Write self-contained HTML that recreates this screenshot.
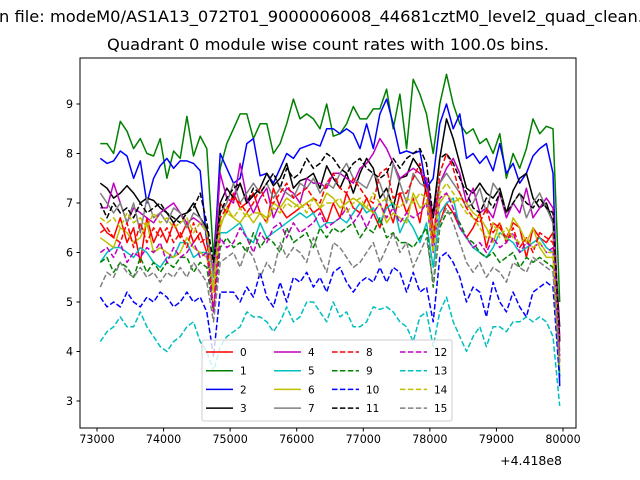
<!DOCTYPE html>
<html><head><meta charset="utf-8"><style>
body{margin:0;background:#fff;}
svg{display:block;font-family:"DejaVu Sans","Liberation Sans",sans-serif;}
</style></head><body>
<svg id="chart" width="640" height="480">
<text x="-1" y="22" font-size="16.3">n file: modeM0/AS1A13_072T01_9000006008_44681cztM0_level2_quad_clean.evt</text>
<text x="328" y="50" font-size="16.3" text-anchor="middle">Quadrant 0 module wise count rates with 100.0s bins.</text>
<g id="plot"></g>
<rect x="80" y="58" width="496" height="370" fill="none" stroke="#000" stroke-width="1"/>
<g id="axes"></g>
<text x="562" y="465" font-size="12.5" text-anchor="end">+4.418e8</text>
<g id="legend"></g>
</svg>
<script>
const t0 = 73050, dt = 100;
const xTicks = [73000,74000,75000,76000,77000,78000,79000,80000];
const yTicks = [3,4,5,6,7,8,9];
const seriesNames = ["0","1","2","3","4","5","6","7","8","9","10","11","12","13","14","15"];
const colors = ["#ff0000","#008000","#0000ff","#000000","#bf00bf","#00bfbf","#bfbf00","#808080"];
const s0=[6.6,6.4,6.3,6.7,6.2,6.5,5.8,6.7,6.2,6.5,6.2,6.6,6.3,6.6,6.2,6.4,6.0,5.2,7.0,6.8,7.2,6.9,7.0,7.2,6.8,6.6,7.3,6.9,6.7,6.8,6.9,7.0,6.8,6.9,6.6,7.0,6.7,7.2,6.9,6.8,7.1,6.8,6.5,7.0,6.6,7.2,6.8,7.1,6.6,7.4,6.5,6.6,7.0,6.8,6.5,6.3,6.5,6.8,6.1,6.6,6.5,6.3,6.6,6.5,5.9,6.5,6.3,6.2,6.4,4.2];
const s1=[8.2,8.2,8.0,8.65,8.45,8.1,8.3,8.0,7.95,8.3,7.5,8.05,7.9,8.75,7.95,8.35,8.1,5.9,7.7,8.2,8.5,8.8,8.8,8.3,8.6,8.6,8.0,8.2,8.6,9.1,8.7,8.8,8.7,8.5,9.0,8.35,8.4,8.6,8.95,8.7,8.7,8.9,8.9,9.3,8.5,9.2,8.1,9.5,9.2,8.8,8.0,9.0,9.6,9.0,8.6,8.4,8.5,8.2,8.3,8.0,8.4,7.5,8.0,7.7,8.1,8.7,8.4,8.55,8.5,5.0];
const s2=[7.9,7.8,7.85,8.05,7.95,7.5,7.85,7.0,7.5,7.75,7.9,7.7,7.85,7.85,7.8,7.65,6.2,5.6,8.0,7.7,7.4,7.5,8.2,8.3,7.55,7.6,7.4,7.7,8.0,7.9,8.1,8.15,8.2,8.15,8.5,8.5,8.4,8.5,8.4,8.1,8.6,8.1,8.8,9.1,8.6,8.0,8.05,8.0,8.05,7.3,7.5,8.6,9.0,8.5,8.8,7.9,8.0,7.8,7.95,7.65,8.2,7.6,7.8,7.4,7.6,7.95,8.1,8.2,7.6,3.3];
const s3=[7.4,7.3,7.1,7.2,7.35,7.2,7.0,7.1,7.05,6.9,6.8,6.6,6.75,6.8,7.0,6.7,6.5,5.5,7.0,7.3,7.1,7.4,7.0,7.15,7.3,7.6,7.35,7.5,7.8,7.3,7.45,7.5,7.6,7.3,7.75,7.5,7.3,7.6,7.2,7.6,7.9,7.7,7.1,7.3,6.9,7.5,7.55,7.9,7.7,7.2,6.8,7.9,8.7,8.3,7.8,7.3,7.2,7.4,7.2,7.1,7.3,6.8,7.25,7.5,7.6,7.1,6.9,7.0,6.6,4.5];
const s4=[6.9,6.9,7.4,7.0,6.6,6.9,6.8,6.7,6.6,6.8,6.9,7.0,6.8,6.6,6.7,6.6,6.4,5.6,7.6,7.1,7.0,7.8,7.1,6.8,7.1,7.3,6.7,7.0,7.3,7.2,7.0,7.5,7.4,7.4,7.3,7.6,7.6,7.5,7.4,7.7,7.8,8.0,8.3,8.1,7.8,7.5,7.6,7.7,7.6,7.5,6.7,7.4,7.7,7.9,7.6,7.0,7.3,6.8,6.9,6.7,7.2,6.7,7.0,6.8,7.3,6.7,6.9,7.1,6.9,4.3];
const s5=[5.8,6.0,6.1,6.1,6.0,5.9,6.1,6.0,5.8,5.7,5.9,5.9,6.2,6.2,5.9,6.0,6.0,5.3,6.4,6.4,6.5,6.6,6.3,6.2,6.6,6.3,6.4,6.5,6.6,6.7,6.8,6.7,6.8,6.5,6.6,6.6,6.7,6.6,6.8,7.0,6.8,6.9,6.6,6.9,7.0,6.4,6.7,6.5,6.2,6.6,5.7,6.8,7.0,7.1,6.5,6.3,6.1,6.0,5.9,6.1,6.4,6.3,6.2,6.0,6.1,6.2,6.3,6.1,6.0,3.5];
const s6=[6.3,6.2,6.1,6.5,6.4,6.2,6.3,6.6,6.0,6.1,6.0,5.9,6.0,6.3,6.1,6.0,5.9,5.2,6.5,6.9,6.7,6.6,6.8,6.6,6.8,6.7,7.0,6.9,7.1,7.0,6.9,7.0,7.1,6.9,7.2,7.1,6.9,7.0,7.1,7.0,6.9,6.8,7.0,6.6,6.8,6.7,6.6,7.2,6.9,7.0,6.4,7.0,7.2,7.0,7.1,7.0,6.8,6.7,6.5,6.2,6.6,6.2,6.7,6.5,6.2,6.5,6.1,5.9,5.9,3.6];
const s7=[7.2,7.0,6.8,7.0,6.6,7.0,6.4,7.1,6.7,6.8,6.6,6.9,6.8,6.5,6.8,6.7,6.4,5.5,6.8,7.0,7.4,7.0,7.2,7.4,7.2,7.4,7.1,7.3,7.2,7.1,7.4,7.3,7.5,7.2,7.4,7.3,7.6,7.8,7.5,7.4,7.3,7.6,7.4,7.0,7.8,7.4,7.0,7.6,7.4,7.3,6.2,7.4,7.6,7.4,7.2,6.9,7.0,7.3,6.8,7.4,7.2,6.8,7.0,7.2,6.7,7.0,7.2,6.9,6.6,4.0];
const s8=[6.4,6.5,6.3,6.2,6.6,6.1,6.6,6.2,6.5,6.3,6.5,6.2,6.4,6.1,6.6,6.2,6.3,4.8,6.7,6.9,7.1,7.0,6.8,7.0,7.3,7.0,7.0,7.2,7.4,7.1,7.2,7.3,7.1,7.0,7.4,7.6,7.3,7.2,7.5,7.3,7.1,7.0,7.6,7.7,7.1,7.2,7.2,7.5,7.8,7.2,6.2,7.6,8.0,7.7,7.2,6.9,6.7,6.6,6.9,6.4,6.6,6.2,6.5,6.1,6.3,6.0,6.4,6.3,6.2,3.8];
const s9=[5.8,5.9,5.6,5.8,5.7,5.5,5.9,5.6,5.8,5.6,5.8,5.7,5.9,5.9,5.6,5.8,5.7,4.8,6.1,6.3,6.1,6.2,6.0,6.4,6.1,6.3,6.2,6.0,6.5,6.2,6.3,6.4,6.1,6.5,6.3,6.5,6.4,6.5,6.6,6.3,6.5,6.4,6.7,6.3,6.4,6.2,6.2,6.1,6.3,6.5,5.3,6.5,6.8,6.8,6.6,6.3,6.2,6.0,5.9,6.0,5.8,5.9,6.0,5.7,5.9,5.8,5.9,5.8,5.7,3.5];
const s10=[5.1,4.9,5.0,4.9,5.2,5.0,4.9,5.1,5.0,5.2,5.1,4.9,5.0,5.2,5.0,5.1,4.8,3.9,5.2,5.2,5.2,5.0,5.3,5.1,5.6,5.1,4.9,5.4,5.0,5.5,5.4,5.6,5.3,5.5,5.2,5.6,5.7,5.4,5.2,5.4,5.5,5.4,5.7,5.4,5.7,5.6,5.2,5.6,5.2,5.3,4.6,5.9,6.0,5.8,5.5,5.0,5.3,5.2,4.7,5.4,5.0,4.8,5.2,4.9,4.7,5.2,5.3,5.4,5.3,3.4];
const s11=[7.0,6.7,7.0,6.8,6.9,6.7,7.0,6.8,6.9,7.0,6.8,6.7,6.6,6.8,6.9,7.2,6.6,5.8,6.8,7.1,7.3,7.4,7.0,7.3,7.2,7.4,7.6,7.3,7.7,7.5,7.6,7.9,7.7,7.8,8.0,7.9,7.7,7.6,7.8,7.9,7.7,7.6,7.5,7.6,7.9,7.7,7.9,8.0,8.1,7.8,6.7,7.9,8.0,7.8,7.5,7.2,6.9,6.8,7.1,6.9,7.2,6.8,7.0,7.2,7.0,6.9,7.1,6.9,6.8,4.2];
const s12=[6.0,6.1,5.9,6.2,5.8,6.0,5.9,6.1,6.0,6.2,5.8,6.1,5.9,6.0,6.2,5.9,6.0,4.8,6.3,6.1,6.2,6.5,6.3,6.0,6.4,6.2,6.5,6.6,6.3,6.6,6.4,6.5,6.6,6.8,6.5,6.6,6.7,6.9,6.6,6.8,6.5,6.8,7.0,6.7,6.9,6.6,6.8,6.7,6.8,7.0,6.0,7.1,7.2,6.9,6.5,6.3,6.1,6.2,6.0,6.3,6.1,6.2,6.4,6.0,6.2,6.1,6.2,6.0,6.1,3.9];
const s13=[4.2,4.4,4.5,4.7,4.5,4.5,4.8,4.5,4.3,4.1,4.0,4.2,4.3,4.5,4.6,4.2,4.0,3.6,4.1,4.3,4.4,4.5,4.8,4.7,4.7,4.6,4.4,4.6,4.9,4.6,4.7,5.0,5.0,4.8,4.6,5.0,4.7,4.8,4.5,4.5,4.6,4.9,4.85,4.9,4.8,4.6,4.5,4.2,4.7,4.8,4.1,4.8,5.1,4.6,4.3,4.0,4.3,4.5,4.1,4.5,4.5,4.4,4.6,4.6,4.7,4.6,4.7,4.6,4.3,2.9];
const s14=[6.7,6.6,6.7,6.5,6.8,6.6,6.7,6.5,6.8,6.6,6.7,6.5,6.6,6.7,6.4,6.6,6.4,5.3,6.6,6.8,6.7,6.9,6.7,6.8,6.8,6.6,6.9,6.8,7.0,6.9,7.0,6.8,7.1,6.9,7.0,7.0,7.1,6.8,7.0,7.1,6.9,7.2,7.0,7.1,7.0,6.9,7.1,7.0,7.2,7.1,6.0,7.2,7.4,7.2,7.0,6.8,6.7,6.5,6.3,6.6,6.3,6.5,6.3,6.2,6.3,6.1,6.2,6.0,6.0,3.7];
const s15=[5.3,5.6,5.5,5.8,5.6,5.5,5.7,5.5,5.6,5.4,5.6,5.5,5.7,5.5,5.8,5.6,5.4,4.6,5.8,5.9,6.0,5.7,6.1,5.9,5.5,5.8,5.6,6.2,5.9,6.1,6.0,5.8,6.3,5.9,5.6,6.2,6.1,5.9,5.7,5.8,6.0,6.2,5.8,6.1,6.4,6.0,6.2,5.7,6.0,6.3,5.4,6.6,6.9,6.6,6.2,5.8,5.6,5.8,5.5,5.7,5.6,5.4,5.8,5.7,5.6,5.9,5.8,5.7,5.6,3.7];
const series=[s0,s1,s2,s3,s4,s5,s6,s7,s8,s9,s10,s11,s12,s13,s14,s15];

const NS="http://www.w3.org/2000/svg";
function X(t){return 97+(t-73000)*(466/7000);}
function Y(v){return 401-(v-3)*(297/6);}
function mk(tag,attrs,parent){const e=document.createElementNS(NS,tag);for(const k in attrs)e.setAttribute(k,attrs[k]);parent.appendChild(e);return e;}

const plot=document.getElementById('plot');
const clip=mk('clipPath',{id:'cp'},plot);
mk('rect',{x:80,y:58,width:496,height:370},clip);
const g=mk('g',{'clip-path':'url(#cp)'},plot);
series.forEach((s,k)=>{
  const pts=s.map((v,i)=>X(t0+i*dt).toFixed(1)+','+Y(v).toFixed(1)).join(' ');
  const p=mk('polyline',{points:pts,fill:'none',stroke:colors[k%8],'stroke-width':1.5,'stroke-linejoin':'round'},g);
  if(k>=8)p.setAttribute('stroke-dasharray','5.5,2.4');
  
  
});

const axes=document.getElementById('axes');
xTicks.forEach(t=>{
  const x=X(t);
  const l=mk('line',{x1:x,x2:x,y1:428,y2:431.5,stroke:'#000'},axes);
  
  
  const tx=mk('text',{x:x,y:443,'font-size':11.1,'text-anchor':'middle'},axes);
  tx.textContent=t;
  
  
});
yTicks.forEach(v=>{
  const y=Y(v);
  const l=mk('line',{x1:76.5,x2:80,y1:y,y2:y,stroke:'#000'},axes);
  
  
  const tx=mk('text',{x:73,y:y+4,'font-size':11.1,'text-anchor':'end'},axes);
  tx.textContent=v;
  
  
});

const lg=document.getElementById('legend');


mk('rect',{x:202,y:340,width:250,height:81,rx:2,fill:'#fff','fill-opacity':0.8,stroke:'#ccc'},lg);
const colX=[206,274,332,400];
seriesNames.forEach((n,k)=>{
  const c=Math.floor(k/4), r=k%4;
  const x=colX[c], y=352+r*18.7;
  const e=mk('g',{},lg);
  
  
  const l=mk('line',{x1:x,x2:x+27,y1:y,y2:y,stroke:colors[k%8],'stroke-width':1.5},e);
  if(k>=8)l.setAttribute('stroke-dasharray','5.5,2.4');
  const tx=mk('text',{x:x+34,y:y+4,'font-size':10.5},e);
  tx.textContent=n;
});
</script>
</body></html>
